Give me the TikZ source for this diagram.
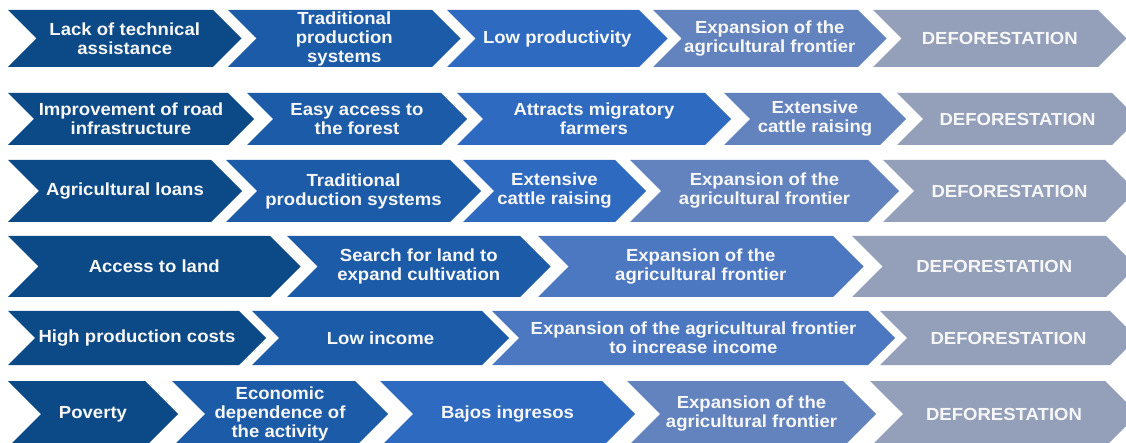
\documentclass[tikz,border=0pt]{standalone}
\usepackage{fontspec}
\setmainfont{Liberation Sans}[FakeStretch=1.06]
\definecolor{cA}{HTML}{0B4A87}
\definecolor{cB}{HTML}{1B5BA8}
\definecolor{cC}{HTML}{2E6AC0}
\definecolor{cD}{HTML}{6383BE}
\definecolor{cE}{HTML}{4C78C1}
\definecolor{cG}{HTML}{94A0BA}
\definecolor{txt}{HTML}{F7F7F7}
\tikzset{lbl/.style={text=txt,align=center,inner sep=0pt,font=\bfseries\fontsize{17.5}{19}\selectfont}}
\newcommand\chev[7]{%
  \pgfmathsetmacro\chD{(#5-#4)/2}%
  \pgfmathsetmacro\chM{(#5+#4)/2}%
  \pgfmathsetmacro\chX{(#2+#3+\chD)/2}%
  \fill[#6] (#2,#4) -- (#3,#4) -- ({#3+\chD},\chM) -- (#3,#5) -- (#2,#5) -- ({#2+\chD},\chM) -- cycle;
  \node[lbl] (#1) at (\chX,\chM) {#7};%
}
\begin{document}
\begin{tikzpicture}[x=1pt,y=-1pt]
\useasboundingbox (0,0) rectangle (1126,443);
\clip (0,0) rectangle (1126,443);
% Row 1
\chev{a1}{8}{213}{10}{67}{cA}{Lack of technical\\assistance}
\chev{a2}{228}{432}{10}{67}{cB}{Traditional\\production\\systems}
\chev{a3}{447}{639}{10}{67}{cC}{Low productivity}
\chev{a4}{653}{858}{10}{67}{cD}{Expansion of the\\agricultural frontier}
\chev{a5}{873}{1098}{10}{67}{cG}{DEFORESTATION}
% Row 2
\chev{b1}{8}{228}{93}{145}{cA}{Improvement of road\\infrastructure}
\chev{b2}{247}{441}{93}{145}{cB}{Easy access to\\the forest}
\chev{b3}{457}{705}{93}{145}{cC}{Attracts migratory\\farmers}
\chev{b4}{724}{880}{93}{145}{cD}{Extensive\\cattle raising}
\chev{b5}{897}{1112}{93}{145}{cG}{DEFORESTATION}
% Row 3
\chev{c1}{8}{211}{160}{222}{cA}{Agricultural loans}
\chev{c2}{226}{450}{160}{222}{cB}{Traditional\\production systems}
\chev{c3}{463}{615}{160}{222}{cC}{Extensive\\cattle raising}
\chev{c4}{630}{868}{160}{222}{cD}{Expansion of the\\agricultural frontier}
\chev{c5}{883}{1105}{160}{222}{cG}{DEFORESTATION}
% Row 4
\chev{d1}{8}{270}{236}{297}{cA}{Access to land}
\chev{d2}{287}{520}{236}{297}{cB}{Search for land to\\expand cultivation}
\chev{d3}{538}{833}{236}{297}{cE}{Expansion of the\\agricultural frontier}
\chev{d4}{852}{1106}{236}{297}{cG}{DEFORESTATION}
% Row 5
\chev{e1}{8}{239}{311}{365}{cA}{High production costs}
\chev{e2}{252}{482}{311}{365}{cB}{Low income}
\chev{e3}{492}{868}{311}{365}{cE}{Expansion of the agricultural frontier\\to increase income}
\chev{e4}{880}{1110}{311}{365}{cG}{DEFORESTATION}
% Row 6
\chev{f1}{8}{145}{381}{447}{cA}{Poverty}
\chev{f2}{172}{355}{381}{447}{cB}{Economic\\dependence of\\the activity}
\chev{f3}{380}{602}{381}{447}{cC}{Bajos ingresos}
\chev{f4}{627}{843}{381}{447}{cD}{Expansion of the\\agricultural frontier}
\chev{f5}{870}{1105}{381}{447}{cG}{DEFORESTATION}
\end{tikzpicture}
\end{document}
